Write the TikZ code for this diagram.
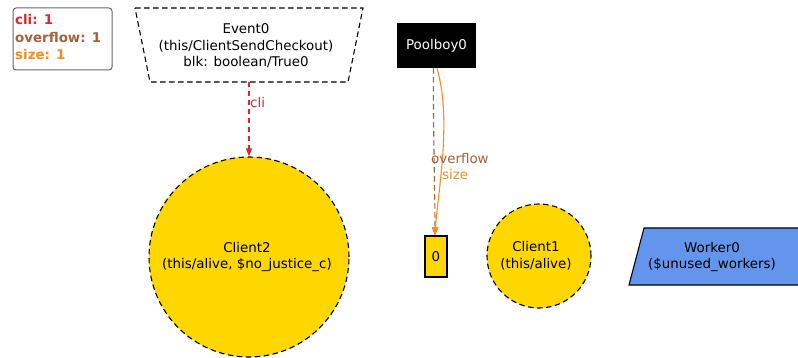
\documentclass[tikz,border=0pt]{standalone}
\usepackage{fontspec}
\setmainfont{DejaVu Sans}
\usetikzlibrary{shapes.geometric,arrows.meta}
\definecolor{cliRed}{HTML}{E0252E}
\definecolor{ovBrown}{HTML}{A8603A}
\definecolor{sizeOrange}{HTML}{FF8A1E}
\definecolor{gold}{HTML}{FFD700}
\definecolor{cblue}{HTML}{6495ED}
\tikzset{
  txt/.style={font=\fontsize{13.4}{16.5}\selectfont},
  lbl/.style={txt, align=center, inner sep=0pt},
  dashline/.style={dash pattern=on 5.5pt off 3.5pt},
  arr/.style={-{Triangle[length=8pt,width=6pt]}},
  linkstyle/.style={line width=1.1pt},
  border/.style={line width=1.1pt},
}
\begin{document}
\begin{tikzpicture}[x=1pt,y=-1pt]
\useasboundingbox (0,0) rectangle (798,358);
\fill[white] (0,0) rectangle (798,358);

% legend
\draw[gray!80!black, rounded corners=3pt, line width=1pt] (13,8) rectangle (112,70);
\node[anchor=west, inner sep=0pt, font=\fontsize{13.4}{16}\selectfont\bfseries, text=cliRed] (lg1) at (15,20) {cli: 1};
\node[anchor=west, inner sep=0pt, font=\fontsize{13.4}{16}\selectfont\bfseries, text=ovBrown] (lg2) at (15,38) {overflow: 1};
\node[anchor=west, inner sep=0pt, font=\fontsize{13.4}{16}\selectfont\bfseries, text=sizeOrange] (lg3) at (15,55) {size: 1};

% Event0 trapezoid
\draw[dashline, border] (135,8) -- (363,8) -- (348,82) -- (150,82) -- cycle;
\coordinate (ev) at (249,82);
\node[lbl] (evt) at (246,46) {Event0\\(this/ClientSendCheckout)\\blk: boolean/True0};

% Client2
\node[circle, fill=gold, draw=black, dashline, border, minimum size=200pt, inner sep=0pt] (c2) at (249,257) {};
\node[lbl] (c2t) at (247,257) {Client2\\(this/alive, \$no\_justice\_c)};

% cli edge
\draw[cliRed, dashline, linkstyle, arr] (ev) -- (c2.north);
\node[anchor=west, inner sep=0pt, text=cliRed, txt] (clil) at (250,103) {cli};

% Poolboy0
\node[fill=black, minimum width=79pt, minimum height=45pt, inner sep=0pt, text=white, txt] (pb) at (436.5,45.5) {Poolboy0};

% node 0
\node[fill=gold, draw=black, border, minimum width=22pt, minimum height=41pt, inner sep=0pt, txt] (z) at (436,256.5) {0};

% edges Poolboy0 -> 0
\draw[ovBrown, dashline, linkstyle, arr] ([xshift=-3pt]pb.south) .. controls (433,130) and (435,190) .. ([xshift=-1pt]z.north);
\draw[sizeOrange, linkstyle, arr] ([xshift=0.5pt]pb.south) .. controls (452,120) and (438,190) .. ([xshift=-1pt]z.north);
\node[anchor=west, inner sep=0pt, text=ovBrown, txt] (ovl) at (431,159) {overflow};
\node[anchor=west, inner sep=0pt, text=sizeOrange, txt] (szl) at (442,175) {size};

% Client1
\node[circle, fill=gold, draw=black, dashline, border, minimum size=104pt, inner sep=0pt] (c1) at (539,256) {};
\node[lbl] (c1t) at (536,256) {Client1\\(this/alive)};

% Worker0
\fill[cblue] (644,228) -- (815,228) -- (798,285) -- (629,285) -- cycle;
\draw[border] (798,228) -- (644,228) -- (629,285) -- (798,285);
\node[lbl] (wt) at (712,257) {Worker0\\(\$unused\_workers)};
\end{tikzpicture}
\end{document}
